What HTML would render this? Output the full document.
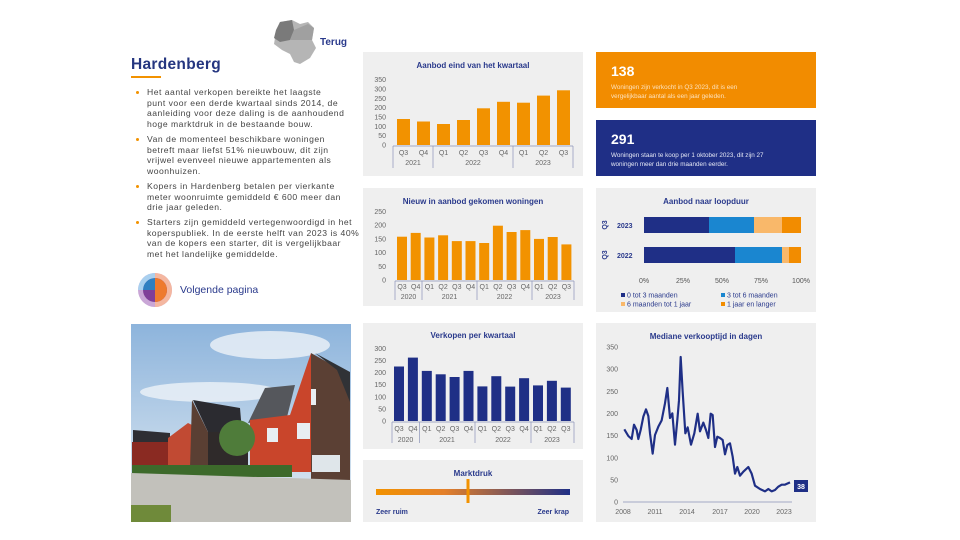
<!DOCTYPE html>
<html><head><meta charset="utf-8"><style>
*{margin:0;padding:0;box-sizing:border-box}
body{width:960px;height:540px;background:#fff;position:relative;overflow:hidden;font-family:"Liberation Sans",sans-serif}
.abs{position:absolute}
.bl{position:absolute;left:147px;font-size:8.6px;letter-spacing:0.5px;line-height:10.6px;color:#444;width:215px;white-space:nowrap}
.dot{position:absolute;left:136px;width:3px;height:3px;background:#f29200;border-radius:50%}
svg text{font-family:"Liberation Sans",sans-serif}
</style></head><body>

<svg class="abs" style="left:270px;top:18px" width="52" height="50" viewBox="0 0 52 50">
<path d="M10 4 L22 2 L30 6 L38 4 L44 10 L42 22 L46 30 L40 40 L30 46 L24 44 L20 36 L12 32 L4 26 L6 14 Z" fill="#b5b5b5"/>
<path d="M10 4 L22 2 L24 12 L20 22 L10 24 L4 20 L6 12 Z" fill="#7a7a7a"/>
<path d="M24 12 L38 6 L44 10 L42 22 L30 22 L20 22 Z" fill="#a0a0a0"/>
</svg>
<div class="abs" style="left:320px;top:37px;font-size:10px;font-weight:bold;color:#2a3a8c">Terug</div>

<div class="abs" style="left:131px;top:56px;font-size:15.5px;font-weight:bold;color:#253680;letter-spacing:0.3px">Hardenberg</div>
<div class="abs" style="left:131px;top:76px;width:30px;height:2px;background:#f29200"></div>

<div class="dot" style="top:91px"></div>
<div class="bl" style="top:87px">Het aantal verkopen bereikte het laagste<br>punt voor een derde kwartaal sinds 2014, de<br>aanleiding voor deze daling is de aanhoudend<br>hoge marktdruk in de bestaande bouw.</div>
<div class="dot" style="top:138px"></div>
<div class="bl" style="top:134px">Van de momenteel beschikbare woningen<br>betreft maar liefst 51% nieuwbouw, dit zijn<br>vrijwel evenveel nieuwe appartementen als<br>woonhuizen.</div>
<div class="dot" style="top:185px"></div>
<div class="bl" style="top:181px">Kopers in Hardenberg betalen per vierkante<br>meter woonruimte gemiddeld € 600 meer dan<br>drie jaar geleden.</div>
<div class="dot" style="top:221px"></div>
<div class="bl" style="top:217px">Starters zijn gemiddeld vertegenwoordigd in het<br>koperspubliek. In de eerste helft van 2023 is 40%<br>van de kopers een starter, dit is vergelijkbaar<br>met het landelijke gemiddelde.</div>

<svg class="abs" style="left:137px;top:272px" width="36" height="36" viewBox="-18 -18 36 36">
<circle r="17" fill="#c9a6d6"/>
<path d="M0 0 L0 -17 A17 17 0 0 1 0 17 Z" fill="#f4b7a0"/>
<circle r="12" fill="#7f3f98"/>
<path d="M0 0 L0 -12 A12 12 0 0 1 0 12 Z" fill="#ee7a2e"/>
<path d="M0 0 L-12 0 A12 12 0 0 1 0 -12 Z" fill="#2f7fc1"/>
<path d="M0 -12 L0 -17 A17 17 0 0 0 -17 0 L-12 0 A12 12 0 0 1 0 -12Z" fill="#a9d0ef"/>
</svg>
<div class="abs" style="left:180px;top:284px;font-size:10.5px;color:#2a3a8c">Volgende pagina</div>

<svg class="abs" style="left:130px;top:320px" width="225" height="205" viewBox="0 0 225 205">
<defs><linearGradient id="sky" x1="0" y1="0" x2="0" y2="1"><stop offset="0" stop-color="#8db4dc"/><stop offset="1" stop-color="#e3ecf3"/></linearGradient></defs>
<rect x="1" y="4" width="220" height="198" fill="url(#sky)"/>
<ellipse cx="140" cy="25" rx="60" ry="14" fill="#eef3f8" opacity=".8"/>
<ellipse cx="80" cy="72" rx="70" ry="10" fill="#eef3f8" opacity=".8"/>
<polygon points="3,110 40,113 40,125 3,123" fill="#2e2e33"/>
<rect x="2" y="122" width="38" height="26" fill="#8a2a22"/>
<polygon points="38,118 58,103 62,105 62,148 38,148" fill="#c14a33"/>
<polygon points="63,80 110,88 112,112 78,112" fill="#2b2b30"/>
<polygon points="62,80 78,112 78,148 60,148" fill="#5a3f33"/>
<rect x="78" y="112" width="40" height="36" fill="#2f2a2a"/>
<polygon points="118,103 135,68 165,65 157,97" fill="#55575c"/>
<polygon points="120,100 160,95 181,33 181,152 120,152" fill="#c9452b"/>
<polygon points="181,33 220,55 220,160 181,160" fill="#5b4034"/>
<polygon points="185,33 220,52 220,82 207,50" fill="#303236"/>
<rect x="137" y="108" width="11" height="14" fill="#e8eef2"/>
<rect x="167" y="103" width="13" height="16" fill="#e8eef2"/>
<rect x="182" y="135" width="28" height="17" fill="#dfe6ea"/>
<rect x="181" y="69" width="5" height="16" fill="#e8eef2"/>
<circle cx="107" cy="118" r="18" fill="#4f7c3a"/>
<rect x="2" y="145" width="160" height="12" fill="#3d6a2b"/>
<polygon points="1,153 221,160 221,202 1,202" fill="#c2c1bb"/>
<rect x="1" y="185" width="40" height="17" fill="#6f8a3a"/>
</svg>

<svg class="abs" style="left:0;top:0" width="960" height="540" viewBox="0 0 960 540" font-size="7">
<rect x="363" y="52" width="220" height="124" fill="#efefef"/>
<text x="473" y="68" text-anchor="middle" font-weight="bold" font-size="8" fill="#2a3a8c">Aanbod eind van het kwartaal</text>
<g fill="#666" text-anchor="end">
<text x="386" y="147.5">0</text><text x="386" y="138">50</text><text x="386" y="129">100</text><text x="386" y="119.5">150</text><text x="386" y="110">200</text><text x="386" y="101">250</text><text x="386" y="91.5">300</text><text x="386" y="82">350</text>
</g>
<g fill="#f29200">
<rect x="397" y="119" width="13" height="26"/>
<rect x="417" y="121.5" width="13" height="23.5"/>
<rect x="437" y="124" width="13" height="21"/>
<rect x="457" y="120" width="13" height="25"/>
<rect x="477" y="108.3" width="13" height="36.7"/>
<rect x="497" y="101.8" width="13" height="43.2"/>
<rect x="517" y="102.7" width="13" height="42.3"/>
<rect x="537" y="95.6" width="13" height="49.4"/>
<rect x="557" y="90.3" width="13" height="54.7"/>
</g>
<g stroke="#8a93b8" stroke-width="0.7">
<line x1="393" y1="146" x2="573" y2="146"/>
<line x1="393" y1="146" x2="393" y2="168"/><line x1="433" y1="146" x2="433" y2="168"/><line x1="513" y1="146" x2="513" y2="168"/><line x1="573" y1="146" x2="573" y2="168"/>
</g>
<g fill="#666" text-anchor="middle">
<text x="403.5" y="155">Q3</text><text x="423.5" y="155">Q4</text><text x="443.5" y="155">Q1</text><text x="463.5" y="155">Q2</text><text x="483.5" y="155">Q3</text><text x="503.5" y="155">Q4</text><text x="523.5" y="155">Q1</text><text x="543.5" y="155">Q2</text><text x="563.5" y="155">Q3</text>
<text x="413" y="165">2021</text><text x="473" y="165">2022</text><text x="543" y="165">2023</text>
</g>

<rect x="363" y="188" width="220" height="118" fill="#efefef"/>
<text x="473" y="204" text-anchor="middle" font-weight="bold" font-size="8" fill="#2a3a8c">Nieuw in aanbod gekomen woningen</text>
<g fill="#666" text-anchor="end">
<text x="386" y="282.5">0</text><text x="386" y="268.8">50</text><text x="386" y="255">100</text><text x="386" y="241.3">150</text><text x="386" y="227.6">200</text><text x="386" y="214">250</text>
</g>
<g fill="#f29200">
<rect x="397" y="236.7" width="10" height="43.3"/>
<rect x="410.7" y="232.9" width="10" height="47.1"/>
<rect x="424.4" y="237.5" width="10" height="42.5"/>
<rect x="438.1" y="235.3" width="10" height="44.7"/>
<rect x="451.8" y="241.1" width="10" height="38.9"/>
<rect x="465.5" y="241.1" width="10" height="38.9"/>
<rect x="479.2" y="243" width="10" height="37"/>
<rect x="492.9" y="225.7" width="10" height="54.3"/>
<rect x="506.6" y="232" width="10" height="48"/>
<rect x="520.3" y="230.1" width="10" height="49.9"/>
<rect x="534" y="238.9" width="10" height="41.1"/>
<rect x="547.7" y="237" width="10" height="43"/>
<rect x="561.4" y="244.4" width="10" height="35.6"/>
</g>
<g stroke="#8a93b8" stroke-width="0.7">
<line x1="395" y1="281" x2="574" y2="281"/>
<line x1="395" y1="281" x2="395" y2="300"/><line x1="422" y1="281" x2="422" y2="300"/><line x1="477" y1="281" x2="477" y2="300"/><line x1="532" y1="281" x2="532" y2="300"/><line x1="574" y1="281" x2="574" y2="300"/>
</g>
<g fill="#666" text-anchor="middle">
<text x="402" y="289">Q3</text><text x="415.7" y="289">Q4</text><text x="429.4" y="289">Q1</text><text x="443.1" y="289">Q2</text><text x="456.8" y="289">Q3</text><text x="470.5" y="289">Q4</text><text x="484.2" y="289">Q1</text><text x="497.9" y="289">Q2</text><text x="511.6" y="289">Q3</text><text x="525.3" y="289">Q4</text><text x="539" y="289">Q1</text><text x="552.7" y="289">Q2</text><text x="566.4" y="289">Q3</text>
<text x="408.5" y="299">2020</text><text x="449.5" y="299">2021</text><text x="504.5" y="299">2022</text><text x="553" y="299">2023</text>
</g>

<rect x="363" y="323" width="220" height="126" fill="#efefef"/>
<text x="473" y="338" text-anchor="middle" font-weight="bold" font-size="8" fill="#2a3a8c">Verkopen per kwartaal</text>
<g fill="#666" text-anchor="end">
<text x="386" y="423.5">0</text><text x="386" y="411.4">50</text><text x="386" y="399.3">100</text><text x="386" y="387.2">150</text><text x="386" y="375.1">200</text><text x="386" y="363">250</text><text x="386" y="350.9">300</text>
</g>
<g fill="#1f2f86">
<rect x="394" y="366.5" width="10" height="54.5"/>
<rect x="407.9" y="357.6" width="10" height="63.4"/>
<rect x="421.8" y="370.9" width="10" height="50.1"/>
<rect x="435.7" y="374.3" width="10" height="46.7"/>
<rect x="449.6" y="377" width="10" height="44"/>
<rect x="463.5" y="370.9" width="10" height="50.1"/>
<rect x="477.4" y="386.4" width="10" height="34.6"/>
<rect x="491.3" y="376.2" width="10" height="44.8"/>
<rect x="505.2" y="386.6" width="10" height="34.4"/>
<rect x="519.1" y="378.2" width="10" height="42.8"/>
<rect x="533" y="385.4" width="10" height="35.6"/>
<rect x="546.9" y="380.8" width="10" height="40.2"/>
<rect x="560.8" y="387.6" width="10" height="33.4"/>
</g>
<g stroke="#8a93b8" stroke-width="0.7">
<line x1="392" y1="422" x2="574" y2="422"/>
<line x1="392" y1="422" x2="392" y2="443"/><line x1="419.5" y1="422" x2="419.5" y2="443"/><line x1="475" y1="422" x2="475" y2="443"/><line x1="531" y1="422" x2="531" y2="443"/><line x1="574" y1="422" x2="574" y2="443"/>
</g>
<g fill="#666" text-anchor="middle">
<text x="399" y="431">Q3</text><text x="412.9" y="431">Q4</text><text x="426.8" y="431">Q1</text><text x="440.7" y="431">Q2</text><text x="454.6" y="431">Q3</text><text x="468.5" y="431">Q4</text><text x="482.4" y="431">Q1</text><text x="496.3" y="431">Q2</text><text x="510.2" y="431">Q3</text><text x="524.1" y="431">Q4</text><text x="538" y="431">Q1</text><text x="551.9" y="431">Q2</text><text x="565.8" y="431">Q3</text>
<text x="405.5" y="442">2020</text><text x="447" y="442">2021</text><text x="503" y="442">2022</text><text x="552" y="442">2023</text>
</g>

<defs><linearGradient id="md" x1="0" x2="1"><stop offset="0" stop-color="#f29200"/><stop offset="0.35" stop-color="#e4802a"/><stop offset="1" stop-color="#1f2f86"/></linearGradient></defs>
<rect x="363" y="460" width="220" height="62" fill="#efefef"/>
<text x="473" y="476" text-anchor="middle" font-weight="bold" font-size="8" fill="#2a3a8c">Marktdruk</text>
<rect x="376" y="489" width="194" height="6" fill="url(#md)"/>
<rect x="466.5" y="479" width="3" height="24" fill="#f29200"/>
<text x="376" y="514" font-weight="bold" font-size="7" fill="#2a3a8c">Zeer ruim</text>
<text x="569" y="514" text-anchor="end" font-weight="bold" font-size="7" fill="#2a3a8c">Zeer krap</text>

<rect x="596" y="52" width="220" height="56" fill="#f28c00"/>
<text x="611" y="76" font-weight="bold" font-size="14" fill="#fff">138</text>
<text x="611" y="89" font-size="6.3" fill="#fde2bd">Woningen zijn verkocht in Q3 2023, dit is een</text>
<text x="611" y="98" font-size="6.3" fill="#fde2bd">vergelijkbaar aantal als een jaar geleden.</text>
<rect x="596" y="120" width="220" height="56" fill="#1f2f86"/>
<text x="611" y="144" font-weight="bold" font-size="14" fill="#fff">291</text>
<text x="611" y="157" font-size="6.3" fill="#e6e9f5">Woningen staan te koop per 1 oktober 2023, dit zijn 27</text>
<text x="611" y="166" font-size="6.3" fill="#e6e9f5">woningen meer dan drie maanden eerder.</text>

<rect x="596" y="188" width="220" height="124" fill="#efefef"/>
<text x="706" y="204" text-anchor="middle" font-weight="bold" font-size="8" fill="#2a3a8c">Aanbod naar loopduur</text>
<rect x="644" y="217" width="65" height="16" fill="#1f2f86"/><rect x="709" y="217" width="45" height="16" fill="#1a86d0"/><rect x="754" y="217" width="28" height="16" fill="#f9b86a"/><rect x="782" y="217" width="19" height="16" fill="#f28c00"/>
<rect x="644" y="247" width="91" height="16" fill="#1f2f86"/><rect x="735" y="247" width="47" height="16" fill="#1a86d0"/><rect x="782" y="247" width="7" height="16" fill="#f9b86a"/><rect x="789" y="247" width="12" height="16" fill="#f28c00"/>
<g font-weight="bold" font-size="7" fill="#2a3a8c">
<text x="617" y="228">2023</text><text x="617" y="258">2022</text>
<text transform="translate(607,225) rotate(-90)" text-anchor="middle">Q3</text>
<text transform="translate(607,255) rotate(-90)" text-anchor="middle">Q3</text>
</g>
<g fill="#555" text-anchor="middle" font-size="7">
<text x="644" y="283">0%</text><text x="683" y="283">25%</text><text x="722" y="283">50%</text><text x="761" y="283">75%</text><text x="801" y="283">100%</text>
</g>
<g font-size="7" fill="#2a3a8c">
<rect x="621" y="293" width="4" height="4" fill="#1f2f86"/><text x="627" y="297.5">0 tot 3 maanden</text>
<rect x="721" y="293" width="4" height="4" fill="#1a86d0"/><text x="727" y="297.5">3 tot 6 maanden</text>
<rect x="621" y="302" width="4" height="4" fill="#f9b86a"/><text x="627" y="306.5">6 maanden tot 1 jaar</text>
<rect x="721" y="302" width="4" height="4" fill="#f28c00"/><text x="727" y="306.5">1 jaar en langer</text>
</g>

<rect x="596" y="323" width="220" height="199" fill="#efefef"/>
<text x="706" y="339" text-anchor="middle" font-weight="bold" font-size="8" fill="#2a3a8c">Mediane verkooptijd in dagen</text>
<g fill="#666" text-anchor="end">
<text x="618" y="504.5">0</text><text x="618" y="482.4">50</text><text x="618" y="460.3">100</text><text x="618" y="438.1">150</text><text x="618" y="416">200</text><text x="618" y="393.8">250</text><text x="618" y="371.7">300</text><text x="618" y="349.5">350</text>
</g>
<line x1="623" y1="502" x2="792" y2="502" stroke="#8a93b8" stroke-width="0.7"/>
<g fill="#666" text-anchor="middle">
<text x="623" y="514">2008</text><text x="655" y="514">2011</text><text x="687" y="514">2014</text><text x="720" y="514">2017</text><text x="752" y="514">2020</text><text x="784" y="514">2023</text>
</g>
<g transform="translate(360,320) scale(0.33333)">
<polyline fill="none" stroke="#1f2f86" stroke-width="6.5" stroke-linejoin="round" points="793,328 805,348 815,357 822,314 830,330 835,357 842,330 850,290 858,268 865,288 870,340 878,401 885,345 895,320 905,301 915,250 922,204 930,294 937,280 945,374 952,300 957,241 962,111 968,215 976,340 983,322 993,374 1003,340 1013,281 1020,334 1030,308 1038,330 1045,354 1052,281 1058,285 1065,381 1072,350 1080,354 1088,360 1095,403 1102,375 1110,370 1118,410 1125,461 1132,441 1140,467 1150,455 1165,441 1175,461 1185,497 1200,507 1215,514 1225,507 1235,514 1245,510 1255,500 1265,494 1275,494 1290,487"/>
</g>
<rect x="794" y="480" width="14" height="12" fill="#1f2f86"/>
<text x="801" y="489" text-anchor="middle" font-weight="bold" font-size="7" fill="#fff">38</text>
</svg>
</body></html>
